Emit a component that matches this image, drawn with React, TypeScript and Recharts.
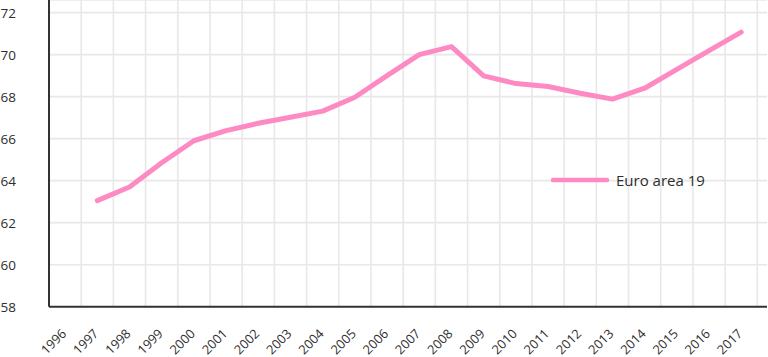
import React from 'react';
import { LineChart, Line, XAxis, YAxis, CartesianGrid, Legend } from 'recharts';

const years = [1997, 1998, 1999, 2000, 2001, 2002, 2003, 2004, 2005, 2006, 2007, 2008, 2009, 2010, 2011, 2012, 2013, 2014, 2015, 2016, 2017];
const euroArea19 = [63.05, 63.7, 64.85, 65.9, 66.38, 66.73, 67.02, 67.31, 67.97, 69.0, 70.0, 70.38, 68.99, 68.62, 68.48, 68.16, 67.88, 68.4, 69.3, 70.19, 71.07];
const xTicks = [1996, 1997, 1998, 1999, 2000, 2001, 2002, 2003, 2004, 2005, 2006, 2007, 2008, 2009, 2010, 2011, 2012, 2013, 2014, 2015, 2016, 2017];
const yTicks = [58, 60, 62, 64, 66, 68, 70, 72];
const seriesName = 'Euro area 19';
const xDomain = [1995.5, 2017.8];

const data = years.map((y, i) => ({ year: y, value: euroArea19[i] }));

const PINK = '#fd8ac3';
const TEXT = '#2e2e2e';
const FONT = '"Open Sans", Lato, sans-serif';

const YTick = (props: any) => {
  const { y, payload } = props;
  return (
    <text x={16} y={y} dy={5} textAnchor="end" fontSize={13.5} fill={TEXT} fontFamily={FONT}>
      {payload.value}
    </text>
  );
};

const XTick = (props: any) => {
  const { x, payload } = props;
  const ax = x + 2;
  const ay = 334.5;
  return (
    <text x={ax} y={ay} textAnchor="end" fontSize={12.8} fill={TEXT} fontFamily={FONT} transform={`rotate(-45, ${ax}, ${ay})`}>
      {payload.value}
    </text>
  );
};

const LegendContent = () => (
  <div style={{ display: 'flex', alignItems: 'center', fontFamily: FONT, fontSize: 15, color: TEXT, whiteSpace: 'nowrap' }}>
    <svg width={60} height={10} style={{ display: 'block' }}>
      <line x1={2} y1={5} x2={56} y2={5} stroke={PINK} strokeWidth={4.5} strokeLinecap="round" />
    </svg>
    <span style={{ marginLeft: 5 }}>{seriesName}</span>
  </div>
);

const vGen = (props: any) => {
  const off = props.offset || {};
  const left = off.left ?? 49;
  const w = off.width ?? 718;
  return xTicks.map((t) => left + ((t + 0.5 - xDomain[0]) / (xDomain[1] - xDomain[0])) * w);
};

export default function App() {
  return (
    <div style={{ position: 'absolute', left: 0, top: 0, width: 768, height: 357, background: '#fff' }}>
      <LineChart width={768} height={357} data={data} margin={{ top: 0, right: 1, bottom: 0, left: 0 }}>
        <CartesianGrid stroke="#e8e8e8" strokeWidth={1.6} verticalCoordinatesGenerator={vGen} />
        <XAxis
          dataKey="year"
          type="number"
          domain={xDomain}
          ticks={xTicks}
          interval={0}
          height={50.3}
          tickLine={false}
          axisLine={{ stroke: '#333', strokeWidth: 2 }}
          tick={<XTick />}
          allowDataOverflow
        />
        <YAxis
          type="number"
          domain={[58, 72.6]}
          ticks={yTicks}
          interval={0}
          width={49}
          tickLine={false}
          axisLine={{ stroke: '#333', strokeWidth: 2 }}
          tick={<YTick />}
          allowDataOverflow
        />
        <Legend
          layout="horizontal"
          verticalAlign="middle"
          align="center"
          content={<LegendContent />}
          wrapperStyle={{ position: 'absolute', left: 551, top: 170, width: 200, height: 22 }}
        />
        <Line
          dataKey="value"
          name={seriesName}
          stroke={PINK}
          strokeWidth={5}
          dot={false}
          strokeLinecap="round"
          strokeLinejoin="round"
          isAnimationActive={false}
        />
      </LineChart>
    </div>
  );
}
